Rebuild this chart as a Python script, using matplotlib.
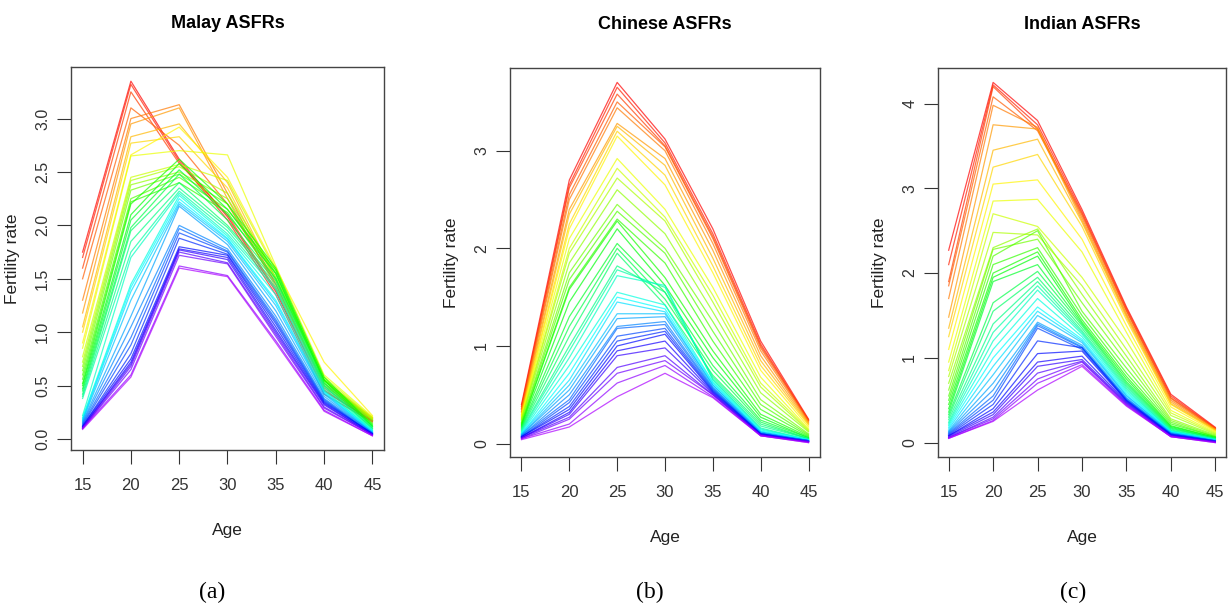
import colorsys
import matplotlib
matplotlib.use("Agg")
import matplotlib.pyplot as plt

# age groups (x axis)
ages = [15, 20, 25, 30, 35, 40, 45]

# ---- Malay ASFRs, one list per age group, earliest year (red) -> latest (violet)
malay_15 = [1.75, 1.70, 1.60, 1.50, 1.30, 1.18, 1.05, 1.00, 0.90, 0.85, 0.77, 0.72, 0.68, 0.64, 0.60, 0.56, 0.52, 0.50, 0.47, 0.45,
            0.42, 0.40, 0.38, 0.22, 0.20, 0.19, 0.18, 0.17, 0.16, 0.15, 0.14, 0.13, 0.12, 0.12, 0.11, 0.11, 0.10, 0.10, 0.10, 0.09]
malay_20 = [3.35, 3.32, 3.25, 3.10, 3.00, 2.95, 2.83, 2.77, 2.66, 2.65, 2.45, 2.42, 2.38, 2.33, 2.25, 2.22, 2.20, 2.10, 2.05, 1.98,
            1.95, 1.85, 1.75, 1.70, 1.45, 1.42, 1.38, 1.30, 1.15, 1.05, 0.95, 0.88, 0.80, 0.75, 0.72, 0.70, 0.68, 0.65, 0.60, 0.58]
malay_25 = [2.62, 2.60, 2.58, 2.75, 3.13, 3.10, 2.95, 2.83, 2.92, 2.70, 2.57, 2.55, 2.50, 2.48, 2.45, 2.40, 2.62, 2.58, 2.52, 2.48,
            2.40, 2.35, 2.32, 2.30, 2.28, 2.25, 2.22, 2.20, 2.18, 2.00, 1.97, 1.93, 1.88, 1.80, 1.78, 1.77, 1.75, 1.72, 1.62, 1.60]
malay_30 = [2.08, 2.05, 2.10, 2.20, 2.30, 2.25, 2.40, 2.35, 2.45, 2.66, 2.42, 2.30, 2.25, 2.20, 2.15, 2.12, 2.20, 2.15, 2.10, 2.05,
            2.00, 1.98, 1.95, 1.92, 1.90, 1.88, 1.87, 1.85, 1.82, 1.78, 1.76, 1.75, 1.73, 1.72, 1.70, 1.68, 1.65, 1.64, 1.53, 1.52]
malay_35 = [1.38, 1.35, 1.40, 1.45, 1.45, 1.42, 1.50, 1.48, 1.60, 1.62, 1.58, 1.55, 1.55, 1.52, 1.55, 1.50, 1.60, 1.58, 1.55, 1.50,
            1.48, 1.45, 1.42, 1.40, 1.35, 1.30, 1.28, 1.25, 1.20, 1.15, 1.12, 1.10, 1.08, 1.05, 1.02, 1.00, 0.98, 0.96, 0.92, 0.90]
malay_40 = [0.45, 0.42, 0.46, 0.48, 0.50, 0.52, 0.55, 0.50, 0.72, 0.60, 0.58, 0.56, 0.55, 0.55, 0.56, 0.55, 0.58, 0.55, 0.53, 0.52,
            0.50, 0.50, 0.48, 0.46, 0.45, 0.44, 0.43, 0.42, 0.40, 0.38, 0.37, 0.36, 0.35, 0.34, 0.33, 0.32, 0.30, 0.29, 0.27, 0.26]
malay_45 = [0.17, 0.16, 0.17, 0.18, 0.19, 0.20, 0.20, 0.19, 0.22, 0.21, 0.20, 0.19, 0.18, 0.17, 0.15, 0.14, 0.13, 0.12, 0.12, 0.11,
            0.10, 0.10, 0.09, 0.08, 0.08, 0.07, 0.07, 0.06, 0.06, 0.06, 0.05, 0.05, 0.05, 0.05, 0.04, 0.04, 0.04, 0.04, 0.03, 0.03]

# ---- Chinese ASFRs
chinese_15 = [0.40, 0.38, 0.36, 0.35, 0.33, 0.32, 0.30, 0.29, 0.28, 0.27, 0.26, 0.25, 0.24, 0.22, 0.21, 0.20, 0.19, 0.18, 0.17, 0.16,
              0.15, 0.14, 0.13, 0.12, 0.11, 0.10, 0.10, 0.09, 0.09, 0.08, 0.08, 0.07, 0.07, 0.07, 0.06, 0.06, 0.06, 0.05, 0.05, 0.04]
chinese_20 = [2.70, 2.65, 2.62, 2.55, 2.50, 2.40, 2.35, 2.25, 2.20, 2.10, 2.00, 1.95, 1.85, 1.75, 1.68, 1.60, 1.58, 1.45, 1.30, 1.20,
              1.10, 1.00, 0.95, 0.88, 0.80, 0.72, 0.65, 0.60, 0.55, 0.50, 0.45, 0.42, 0.38, 0.35, 0.32, 0.30, 0.27, 0.25, 0.20, 0.17]
chinese_25 = [3.70, 3.65, 3.58, 3.50, 3.44, 3.28, 3.25, 3.20, 3.15, 2.92, 2.82, 2.72, 2.60, 2.45, 2.38, 2.30, 2.28, 2.20, 2.05, 2.00,
              1.95, 1.82, 1.78, 1.72, 1.55, 1.50, 1.45, 1.33, 1.28, 1.20, 1.18, 1.10, 1.05, 1.00, 0.95, 0.90, 0.78, 0.72, 0.62, 0.48]
chinese_30 = [3.12, 3.08, 3.05, 3.04, 3.00, 2.92, 2.85, 2.75, 2.65, 2.40, 2.32, 2.28, 2.15, 2.00, 1.95, 1.85, 1.70, 1.62, 1.55, 1.48,
              1.42, 1.55, 1.60, 1.62, 1.42, 1.38, 1.35, 1.33, 1.30, 1.25, 1.22, 1.18, 1.15, 1.12, 1.05, 0.98, 0.90, 0.85, 0.80, 0.72]
chinese_35 = [2.20, 2.15, 2.12, 2.10, 2.05, 1.98, 1.90, 1.82, 1.75, 1.60, 1.52, 1.45, 1.35, 1.25, 1.15, 1.05, 0.95, 0.88, 0.80, 0.75,
              0.70, 0.68, 0.66, 0.65, 0.63, 0.62, 0.60, 0.60, 0.58, 0.57, 0.56, 0.55, 0.54, 0.53, 0.52, 0.51, 0.50, 0.50, 0.48, 0.47]
chinese_40 = [1.05, 1.02, 1.00, 0.98, 0.95, 0.90, 0.85, 0.80, 0.75, 0.68, 0.62, 0.58, 0.52, 0.45, 0.40, 0.35, 0.30, 0.27, 0.24, 0.22,
              0.20, 0.18, 0.16, 0.15, 0.14, 0.13, 0.12, 0.12, 0.11, 0.11, 0.10, 0.10, 0.10, 0.10, 0.09, 0.09, 0.09, 0.08, 0.08, 0.08]
chinese_45 = [0.25, 0.24, 0.24, 0.23, 0.22, 0.21, 0.20, 0.19, 0.17, 0.15, 0.14, 0.13, 0.12, 0.10, 0.09, 0.08, 0.07, 0.06, 0.06, 0.05,
              0.05, 0.05, 0.04, 0.04, 0.04, 0.04, 0.03, 0.03, 0.03, 0.03, 0.03, 0.03, 0.02, 0.02, 0.02, 0.02, 0.02, 0.02, 0.01, 0.01]

# ---- Indian ASFRs
indian_15 = [2.27, 2.10, 1.90, 1.85, 1.70, 1.48, 1.35, 1.25, 1.10, 0.95, 0.85, 0.78, 0.70, 0.62, 0.55, 0.50, 0.45, 0.40, 0.36, 0.33,
             0.30, 0.27, 0.24, 0.22, 0.20, 0.18, 0.16, 0.14, 0.13, 0.12, 0.11, 0.10, 0.09, 0.08, 0.08, 0.07, 0.06, 0.06, 0.05, 0.05]
indian_20 = [4.25, 4.22, 4.20, 4.08, 3.98, 3.75, 3.45, 3.25, 3.05, 2.85, 2.70, 2.48, 2.30, 2.28, 2.20, 2.10, 2.00, 1.95, 1.90, 1.65,
             1.55, 1.40, 1.30, 1.20, 1.10, 1.00, 0.90, 0.80, 0.70, 0.62, 0.55, 0.50, 0.45, 0.40, 0.36, 0.33, 0.30, 0.28, 0.26, 0.25]
indian_25 = [3.80, 3.75, 3.70, 3.68, 3.72, 3.70, 3.58, 3.40, 3.10, 2.87, 2.55, 2.45, 2.52, 2.40, 2.50, 2.30, 2.25, 2.20, 2.10, 2.02,
             1.95, 1.90, 1.85, 1.80, 1.70, 1.60, 1.55, 1.50, 1.42, 1.40, 1.38, 1.35, 1.20, 1.05, 0.95, 0.90, 0.82, 0.75, 0.70, 0.62]
indian_30 = [2.75, 2.72, 2.70, 2.68, 2.65, 2.62, 2.60, 2.55, 2.40, 2.25, 1.95, 1.85, 1.75, 1.65, 1.55, 1.50, 1.45, 1.42, 1.40, 1.38,
             1.35, 1.32, 1.30, 1.28, 1.25, 1.22, 1.20, 1.18, 1.15, 1.13, 1.12, 1.10, 1.12, 1.08, 1.02, 0.98, 0.96, 0.95, 0.92, 0.90]
indian_35 = [1.60, 1.58, 1.56, 1.55, 1.52, 1.50, 1.48, 1.45, 1.38, 1.30, 1.20, 1.10, 1.02, 0.95, 0.88, 0.82, 0.78, 0.75, 0.72, 0.70,
             0.68, 0.66, 0.64, 0.62, 0.60, 0.58, 0.56, 0.55, 0.53, 0.52, 0.51, 0.50, 0.50, 0.49, 0.48, 0.47, 0.46, 0.45, 0.44, 0.43]
indian_40 = [0.57, 0.55, 0.53, 0.52, 0.50, 0.48, 0.46, 0.45, 0.42, 0.38, 0.35, 0.32, 0.28, 0.26, 0.24, 0.22, 0.20, 0.19, 0.18, 0.17,
             0.16, 0.15, 0.14, 0.14, 0.13, 0.13, 0.12, 0.12, 0.11, 0.11, 0.10, 0.10, 0.10, 0.09, 0.09, 0.08, 0.08, 0.07, 0.07, 0.07]
indian_45 = [0.18, 0.17, 0.17, 0.16, 0.16, 0.15, 0.15, 0.14, 0.13, 0.12, 0.11, 0.10, 0.09, 0.08, 0.07, 0.07, 0.06, 0.06, 0.05, 0.05,
             0.05, 0.04, 0.04, 0.04, 0.03, 0.03, 0.03, 0.03, 0.02, 0.02, 0.02, 0.02, 0.02, 0.01, 0.01, 0.01, 0.01, 0.01, 0.00, 0.00]

titles = ["Malay ASFRs", "Chinese ASFRs", "Indian ASFRs"]
panel_tags = ["(a)", "(b)", "(c)"]
y_ticks = [[0.0, 0.5, 1.0, 1.5, 2.0, 2.5, 3.0], [0, 1, 2, 3], [0, 1, 2, 3, 4]]
y_ticklabels = [["0.0", "0.5", "1.0", "1.5", "2.0", "2.5", "3.0"], ["0", "1", "2", "3"], ["0", "1", "2", "3", "4"]]

panels = [
    [malay_15, malay_20, malay_25, malay_30, malay_35, malay_40, malay_45],
    [chinese_15, chinese_20, chinese_25, chinese_30, chinese_35, chinese_40, chinese_45],
    [indian_15, indian_20, indian_25, indian_30, indian_35, indian_40, indian_45],
]

# axes boxes in pixels (left, top, right, bottom) of a 1228x606 canvas
W, H = 1228, 606
boxes = [(71, 67, 384, 450), (510, 68, 820, 457), (938, 68, 1226, 457)]
tag_x = [212, 650, 1073]

plt.rcParams["font.family"] = ["Liberation Sans", "DejaVu Sans"]

fig = plt.figure(figsize=(W / 100, H / 100), dpi=100)

for p, cols in enumerate(panels):
    l, t, r, b = boxes[p]
    ax = fig.add_axes([l / W, 1 - b / H, (r - l) / W, (b - t) / H])
    n = len(cols[0])
    for k in range(n):
        # R style rainbow, red (first year) to violet (last year)
        rgb = colorsys.hsv_to_rgb(0.78 * k / (n - 1), 1.0, 1.0)
        ax.plot(ages, [c[k] for c in cols], color=rgb, lw=0.9, alpha=0.7)

    # R default: 4% padding around the data range
    lo = min(min(c) for c in cols)
    hi = max(max(c) for c in cols)
    pad = 0.04 * (hi - lo)
    ax.set_ylim(lo - pad, hi + pad)
    ax.set_xlim(ages[0] - 0.04 * (ages[-1] - ages[0]), ages[-1] + 0.04 * (ages[-1] - ages[0]))

    ax.set_xticks(ages)
    ax.set_xticklabels([str(a) for a in ages], fontsize=12)
    ax.set_yticks(y_ticks[p])
    ax.set_yticklabels(y_ticklabels[p], rotation=90, va="center", fontsize=11.5)
    ax.tick_params(direction="out", length=10, width=0.8, color="#333333", labelcolor="#333333")
    ax.tick_params(axis="x", pad=10)
    ax.tick_params(axis="y", pad=5)
    for s in ax.spines.values():
        s.set_color("#444444")
        s.set_linewidth(1.0)

    ax.set_xlabel("Age", fontsize=12.5, labelpad=22, color="#222222")
    ax.set_ylabel("Fertility rate", fontsize=12.5, labelpad=11, color="#222222")
    ax.set_title(titles[p], fontweight="bold", fontsize=13, pad=28)

    fig.text(tag_x[p] / W, 1 - 592 / H, panel_tags[p], family="Liberation Serif",
             fontsize=17, ha="center", va="center")

fig.savefig("out.png", dpi=100)
